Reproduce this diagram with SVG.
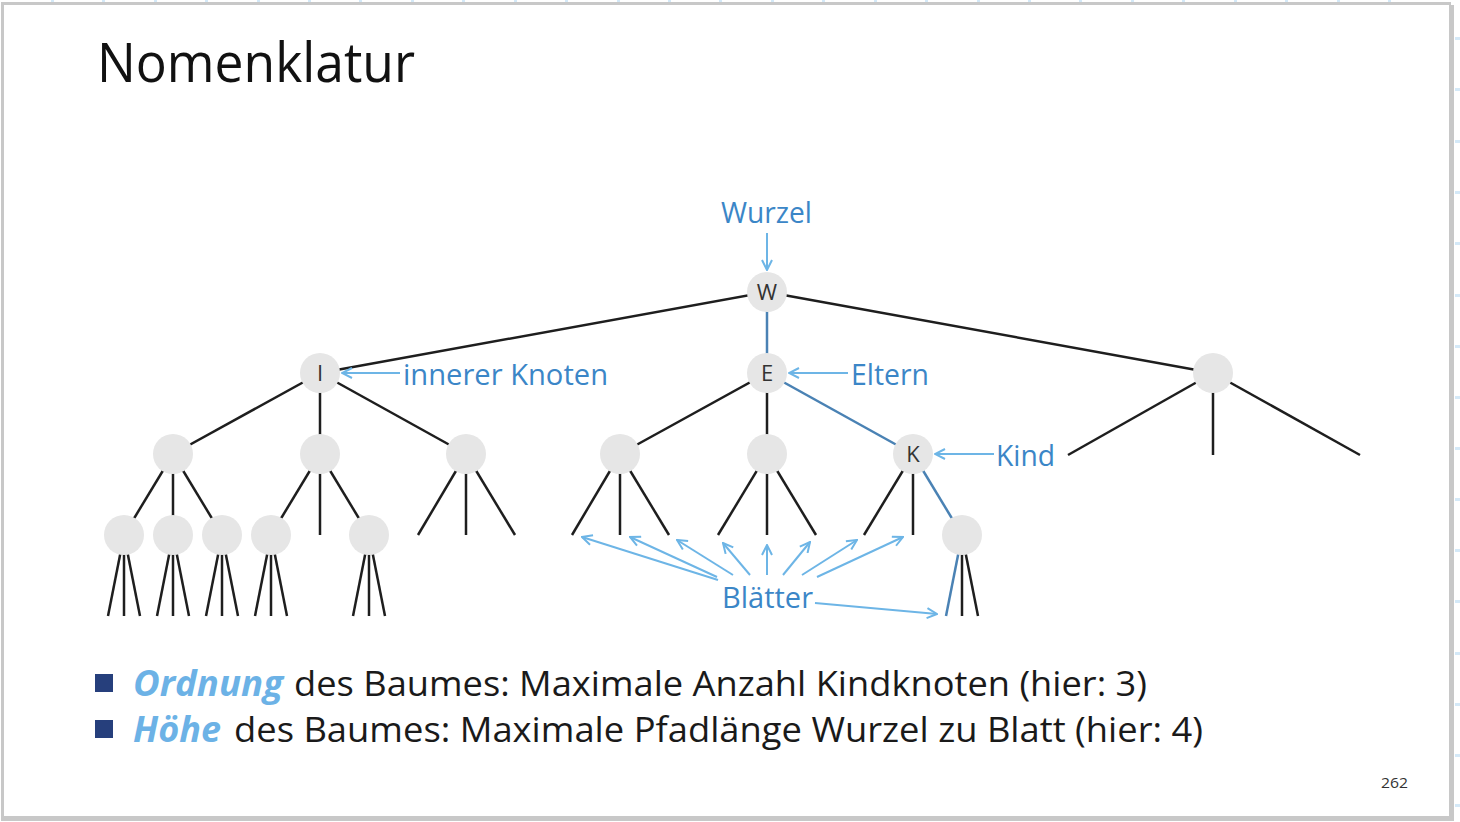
<svg xmlns="http://www.w3.org/2000/svg" width="1460" height="822" viewBox="0 0 1460 822">
  <defs>
    <style>
      .edge { stroke: #1e1e1e; stroke-width: 2.5; fill: none; }
      .path { stroke: #4a82b4; stroke-width: 2.5; fill: none; }
      .node { fill: #e6e6e6; }
      .lbl { font-family: "Open Sans", "Noto Sans", sans-serif; font-size: 22px; fill: #333; text-anchor: middle; }
      .ann { stroke: #6db5e6; stroke-width: 2; fill: none; marker-end: url(#vhead); }
      .annText { font-family: "Open Sans", "Noto Sans", sans-serif; font-size: 29px; fill: #3b86c7; }
      .body { font-family: "Open Sans", "Noto Sans", sans-serif; font-size: 35px; fill: #1a1a1a; }
      .key { font-family: "Open Sans", "Noto Sans", sans-serif; font-size: 35px; font-weight: bold; font-style: italic; fill: #6cb2e6; }
      .tick { fill: #d4e9f8; }
      .frame { fill: #c8c8c8; }
    </style>
    <marker id="vhead" viewBox="0 0 12 12" refX="11" refY="6" markerWidth="12" markerHeight="12" markerUnits="userSpaceOnUse" orient="auto">
      <path d="M1,1 L11,6 L1,11" fill="none" stroke="#6db5e6" stroke-width="2"/>
    </marker>
  </defs>

  <rect x="0" y="0" width="1460" height="822" fill="#ffffff"/>

  <!-- grid ticks outside the slide frame -->
  <g id="ticks" class="tick">
    <rect x="51" y="0" width="3" height="3"/><rect x="102" y="0" width="3" height="3"/><rect x="154" y="0" width="3" height="3"/>
    <rect x="205" y="0" width="3" height="3"/><rect x="257" y="0" width="3" height="3"/><rect x="308" y="0" width="3" height="3"/>
    <rect x="359" y="0" width="3" height="3"/><rect x="411" y="0" width="3" height="3"/><rect x="462" y="0" width="3" height="3"/>
    <rect x="514" y="0" width="3" height="3"/><rect x="565" y="0" width="3" height="3"/><rect x="617" y="0" width="3" height="3"/>
    <rect x="668" y="0" width="3" height="3"/><rect x="719" y="0" width="3" height="3"/><rect x="771" y="0" width="3" height="3"/>
    <rect x="822" y="0" width="3" height="3"/><rect x="874" y="0" width="3" height="3"/><rect x="925" y="0" width="3" height="3"/>
    <rect x="977" y="0" width="3" height="3"/><rect x="1028" y="0" width="3" height="3"/><rect x="1079" y="0" width="3" height="3"/>
    <rect x="1131" y="0" width="3" height="3"/><rect x="1182" y="0" width="3" height="3"/><rect x="1234" y="0" width="3" height="3"/>
    <rect x="1285" y="0" width="3" height="3"/><rect x="1337" y="0" width="3" height="3"/><rect x="1388" y="0" width="3" height="3"/>
    <rect x="1455" y="37" width="5" height="3"/><rect x="1455" y="88" width="5" height="3"/><rect x="1455" y="140" width="5" height="3"/>
    <rect x="1455" y="191" width="5" height="3"/><rect x="1455" y="242" width="5" height="3"/><rect x="1455" y="294" width="5" height="3"/>
    <rect x="1455" y="345" width="5" height="3"/><rect x="1455" y="396" width="5" height="3"/><rect x="1455" y="447" width="5" height="3"/>
    <rect x="1455" y="498" width="5" height="3"/><rect x="1455" y="549" width="5" height="3"/><rect x="1455" y="600" width="5" height="3"/>
    <rect x="1455" y="652" width="5" height="3"/><rect x="1455" y="703" width="5" height="3"/><rect x="1455" y="754" width="5" height="3"/>
    <rect x="1455" y="804" width="5" height="3"/>
  </g>

  <!-- slide frame -->
  <g id="frame" class="frame">
    <rect x="1" y="2" width="1450" height="3"/>
    <rect x="1" y="2" width="3" height="818"/>
    <rect x="1449" y="5" width="5" height="816"/>
    <rect x="1" y="816" width="1453" height="5"/>
  </g>

  <text x="97" y="82" font-family="Open Sans, Noto Sans, sans-serif" font-size="54" fill="#111" textLength="318" lengthAdjust="spacingAndGlyphs">Nomenklatur</text>

  <!-- tree edges -->
  <g id="connectors">
    <line class="edge" x1="767" y1="292" x2="320" y2="373"/>
    <line class="path" x1="767" y1="292" x2="767" y2="373"/>
    <line class="edge" x1="767" y1="292" x2="1213" y2="373"/>

    <line class="edge" x1="320" y1="373" x2="173" y2="454"/>
    <line class="edge" x1="320" y1="373" x2="320" y2="454"/>
    <line class="edge" x1="320" y1="373" x2="466" y2="454"/>
    <line class="edge" x1="767" y1="373" x2="620" y2="454"/>
    <line class="edge" x1="767" y1="373" x2="767" y2="454"/>
    <line class="path" x1="767" y1="373" x2="913" y2="454"/>
    <line class="edge" x1="1213" y1="373" x2="1068" y2="455"/>
    <line class="edge" x1="1213" y1="373" x2="1213" y2="455"/>
    <line class="edge" x1="1213" y1="373" x2="1360" y2="455"/>

    <line class="edge" x1="173" y1="454" x2="124" y2="535"/>
    <line class="edge" x1="173" y1="454" x2="173" y2="535"/>
    <line class="edge" x1="173" y1="454" x2="222" y2="535"/>
    <line class="edge" x1="320" y1="454" x2="271" y2="535"/>
    <line class="edge" x1="320" y1="454" x2="320" y2="535"/>
    <line class="edge" x1="320" y1="454" x2="369" y2="535"/>
    <line class="edge" x1="466" y1="454" x2="418" y2="535"/>
    <line class="edge" x1="466" y1="454" x2="466" y2="535"/>
    <line class="edge" x1="466" y1="454" x2="515" y2="535"/>
    <line class="edge" x1="620" y1="454" x2="572" y2="535"/>
    <line class="edge" x1="620" y1="454" x2="620" y2="535"/>
    <line class="edge" x1="620" y1="454" x2="669" y2="535"/>
    <line class="edge" x1="767" y1="454" x2="718" y2="535"/>
    <line class="edge" x1="767" y1="454" x2="767" y2="535"/>
    <line class="edge" x1="767" y1="454" x2="816" y2="535"/>
    <line class="edge" x1="913" y1="454" x2="864" y2="535"/>
    <line class="edge" x1="913" y1="454" x2="913" y2="535"/>
    <line class="path" x1="913" y1="454" x2="962" y2="535"/>

    <line class="edge" x1="124" y1="535" x2="108" y2="616"/>
    <line class="edge" x1="124" y1="535" x2="124" y2="616"/>
    <line class="edge" x1="124" y1="535" x2="140" y2="616"/>
    <line class="edge" x1="173" y1="535" x2="157" y2="616"/>
    <line class="edge" x1="173" y1="535" x2="173" y2="616"/>
    <line class="edge" x1="173" y1="535" x2="189" y2="616"/>
    <line class="edge" x1="222" y1="535" x2="206" y2="616"/>
    <line class="edge" x1="222" y1="535" x2="222" y2="616"/>
    <line class="edge" x1="222" y1="535" x2="238" y2="616"/>
    <line class="edge" x1="271" y1="535" x2="255" y2="616"/>
    <line class="edge" x1="271" y1="535" x2="271" y2="616"/>
    <line class="edge" x1="271" y1="535" x2="287" y2="616"/>
    <line class="edge" x1="369" y1="535" x2="353" y2="616"/>
    <line class="edge" x1="369" y1="535" x2="369" y2="616"/>
    <line class="edge" x1="369" y1="535" x2="385" y2="616"/>
    <line class="path" x1="962" y1="535" x2="946" y2="616"/>
    <line class="edge" x1="962" y1="535" x2="962" y2="616"/>
    <line class="edge" x1="962" y1="535" x2="978" y2="616"/>
  </g>

  <!-- tree nodes -->
  <g id="node-W"><circle class="node" cx="767" cy="292" r="20"/><text class="lbl" x="767" y="300">W</text></g>
  <g id="node-I"><circle class="node" cx="320" cy="373" r="20"/><text class="lbl" x="320" y="381">I</text></g>
  <g id="node-E"><circle class="node" cx="767" cy="373" r="20"/><text class="lbl" x="767" y="381">E</text></g>
  <g id="node-R"><circle class="node" cx="1213" cy="373" r="20"/></g>
  <g id="node-I1"><circle class="node" cx="173" cy="454" r="20"/></g>
  <g id="node-I2"><circle class="node" cx="320" cy="454" r="20"/></g>
  <g id="node-I3"><circle class="node" cx="466" cy="454" r="20"/></g>
  <g id="node-E1"><circle class="node" cx="620" cy="454" r="20"/></g>
  <g id="node-E2"><circle class="node" cx="767" cy="454" r="20"/></g>
  <g id="node-K"><circle class="node" cx="913" cy="454" r="20"/><text class="lbl" x="913" y="462">K</text></g>
  <g id="node-a"><circle class="node" cx="124" cy="535" r="20"/></g>
  <g id="node-b"><circle class="node" cx="173" cy="535" r="20"/></g>
  <g id="node-c"><circle class="node" cx="222" cy="535" r="20"/></g>
  <g id="node-d"><circle class="node" cx="271" cy="535" r="20"/></g>
  <g id="node-e"><circle class="node" cx="369" cy="535" r="20"/></g>
  <g id="node-f"><circle class="node" cx="962" cy="535" r="20"/></g>

  <!-- annotations -->
  <g id="annotations">
    <line class="ann" x1="767" y1="233" x2="767" y2="270"/>
    <line class="ann" x1="400" y1="373" x2="342" y2="373"/>
    <line class="ann" x1="848" y1="373" x2="789" y2="373"/>
    <line class="ann" x1="994" y1="454" x2="935" y2="454"/>
    <line class="ann" x1="718" y1="580" x2="582" y2="537"/>
    <line class="ann" x1="717" y1="577" x2="630" y2="537"/>
    <line class="ann" x1="733" y1="575" x2="677" y2="540"/>
    <line class="ann" x1="750" y1="575" x2="723" y2="543"/>
    <line class="ann" x1="767" y1="575" x2="767" y2="545"/>
    <line class="ann" x1="783" y1="575" x2="810" y2="542"/>
    <line class="ann" x1="802" y1="575" x2="857" y2="540"/>
    <line class="ann" x1="817" y1="577" x2="903" y2="537"/>
    <line class="ann" x1="815" y1="603" x2="937" y2="614"/>
    <text class="annText" x="721" y="223" textLength="91" lengthAdjust="spacingAndGlyphs">Wurzel</text>
    <text class="annText" x="403" y="385" textLength="205" lengthAdjust="spacingAndGlyphs">innerer Knoten</text>
    <text class="annText" x="851" y="385" textLength="78" lengthAdjust="spacingAndGlyphs">Eltern</text>
    <text class="annText" x="996" y="466" textLength="59" lengthAdjust="spacingAndGlyphs">Kind</text>
    <text class="annText" x="722" y="608" textLength="91" lengthAdjust="spacingAndGlyphs">Blätter</text>
  </g>

  <!-- bullet list -->
  <g id="bullets">
    <rect x="95" y="674" width="18" height="18" fill="#263f7c"/>
    <text class="key" x="133" y="696" textLength="150" lengthAdjust="spacingAndGlyphs">Ordnung</text>
    <text class="body" x="294" y="696" textLength="853" lengthAdjust="spacingAndGlyphs">des Baumes: Maximale Anzahl Kindknoten (hier: 3)</text>
    <rect x="95" y="720" width="18" height="18" fill="#263f7c"/>
    <text class="key" x="133" y="742" textLength="88" lengthAdjust="spacingAndGlyphs">Höhe</text>
    <text class="body" x="234" y="742" textLength="969" lengthAdjust="spacingAndGlyphs">des Baumes: Maximale Pfadlänge Wurzel zu Blatt (hier: 4)</text>
  </g>

  <text x="1381" y="788" font-family="Open Sans, Noto Sans, sans-serif" font-size="15" fill="#333" textLength="27" lengthAdjust="spacingAndGlyphs">262</text>
</svg>
